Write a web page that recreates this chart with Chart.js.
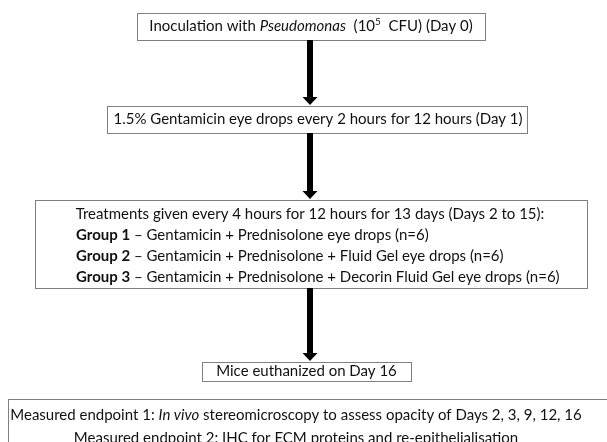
<!DOCTYPE html>
<html>
<head>
<meta charset="utf-8">
<script src="https://cdn.jsdelivr.net/npm/chart.js@4"></script>
<style>
  html, body { margin: 0; padding: 0; background: #fff; }
  #wrap { width: 607px; height: 442px; }
</style>
</head>
<body>
<div id="wrap"><canvas id="flow"></canvas></div>
<script>
// ===== DATA =====
// *italic*, **bold**, ^superscript^
const stepLabels = [
  "Inoculation with *Pseudomonas*  (10^5^  CFU) (Day 0)",
  "1.5% Gentamicin eye drops every 2 hours for 12 hours (Day 1)",
  "Treatments given every 4 hours for 12 hours for 13 days (Days 2 to 15):",
  "Mice euthanized on Day 16",
];
const groupNames = ["Group 1", "Group 2", "Group 3"];
const groupTreatments = [
  "Gentamicin + Prednisolone eye drops",
  "Gentamicin + Prednisolone + Fluid Gel eye drops",
  "Gentamicin + Prednisolone + Decorin Fluid Gel eye drops",
];
const groupSizes = [6, 6, 6];
const endpointLabels = [
  "Measured endpoint 1: *In vivo* stereomicroscopy to assess opacity of Days 2, 3, 9, 12, 16",
  "Measured endpoint 2: IHC for ECM proteins and re-epithelialisation",
];

// ===== LAYOUT (chart units) =====
const boxes = [
  { x0: 137, x1: 485, y0: 13, y1: 40 },
  { x0: 107, x1: 527, y0: 106, y1: 133 },
  { x0: 35, x1: 587, y0: 200, y1: 288 },
  { x0: 202, x1: 411, y0: 362, y1: 381 },
  { x0: 8, x1: 640, y0: 399, y1: 480 },
];
const arrows = [
  { x: 310, from: 40, to: 105 },
  { x: 310, from: 133, to: 199 },
  { x: 310, from: 288, to: 361 },
];
const FONT = "Lato, 'Open Sans', sans-serif";
const SIZE = 15;
const TEXT_COLOR = "#111";

function parseRich(str) {
  return str
    .split(/(\*\*.+?\*\*|\*.+?\*|\^.+?\^)/)
    .filter((s) => s.length)
    .map((s) => {
      if (s.startsWith("**")) return { t: s.slice(2, -2), style: "bold" };
      if (s.startsWith("*")) return { t: s.slice(1, -1), style: "italic" };
      if (s.startsWith("^")) return { t: s.slice(1, -1), style: "sup" };
      return { t: s, style: "normal" };
    });
}

function segFont(style) {
  if (style === "bold") return `bold ${SIZE}px ${FONT}`;
  if (style === "italic") return `italic ${SIZE}px ${FONT}`;
  if (style === "sup") return `${Math.round(SIZE * 0.65)}px ${FONT}`;
  return `${SIZE}px ${FONT}`;
}

function drawRich(ctx, str, x, y, align) {
  const segs = parseRich(str);
  let total = 0;
  segs.forEach((s) => {
    ctx.font = segFont(s.style);
    s.w = ctx.measureText(s.t).width;
    total += s.w;
  });
  let cx = align === "center" ? x - total / 2 : x;
  ctx.textAlign = "left";
  ctx.textBaseline = "middle";
  ctx.fillStyle = TEXT_COLOR;
  segs.forEach((s) => {
    ctx.font = segFont(s.style);
    ctx.fillText(s.t, cx, s.style === "sup" ? y - 5 : y);
    cx += s.w;
  });
}

const flowPlugin = {
  id: "flow",
  afterDraw(chart) {
    const ctx = chart.ctx;
    const sx = chart.scales.x;
    const sy = chart.scales.y;
    const px = (v) => sx.getPixelForValue(v);
    const py = (v) => sy.getPixelForValue(v);

    ctx.save();
    // boxes
    ctx.strokeStyle = "#7f7f7f";
    ctx.lineWidth = 1;
    boxes.forEach((b) => {
      ctx.strokeRect(
        Math.round(px(b.x0)) + 0.5,
        Math.round(py(b.y0)) + 0.5,
        Math.round(px(b.x1) - px(b.x0)),
        Math.round(py(b.y1) - py(b.y0)),
      );
    });

    // arrows
    ctx.fillStyle = "#000";
    arrows.forEach((a) => {
      const x = px(a.x);
      const top = py(a.from);
      const tip = py(a.to);
      const headH = 8;
      ctx.fillRect(x - 3, top, 6, tip - headH - top + 1);
      ctx.beginPath();
      ctx.moveTo(x - 7.5, tip - headH);
      ctx.lineTo(x + 7.5, tip - headH);
      ctx.lineTo(x, tip);
      ctx.closePath();
      ctx.fill();
    });

    // texts
    drawRich(ctx, stepLabels[0], px(311), py(26.5), "center");
    drawRich(ctx, stepLabels[1], px(318), py(119.5), "center");
    drawRich(ctx, stepLabels[2], px(310), py(214), "center");
    groupNames.forEach((g, i) => {
      const line = `**${g}** – ${groupTreatments[i]} (n=${groupSizes[i]})`;
      drawRich(ctx, line, px(76), py(235.5 + i * 21), "left");
    });
    drawRich(ctx, stepLabels[3], px(306.5), py(371.5), "center");
    endpointLabels.forEach((l, i) => {
      drawRich(ctx, l, px(296), py(415 + i * 23), "center");
    });
    ctx.restore();
  },
};

new Chart(document.getElementById("flow"), {
  type: "scatter",
  data: { datasets: [] },
  options: {
    responsive: true,
    maintainAspectRatio: false,
    animation: false,
    layout: { padding: 0 },
    plugins: { legend: { display: false }, tooltip: { enabled: false } },
    scales: {
      x: { type: "linear", min: 0, max: 607, display: false },
      y: { type: "linear", min: 0, max: 442, reverse: true, display: false },
    },
  },
  plugins: [flowPlugin],
});
</script>
</body>
</html>
